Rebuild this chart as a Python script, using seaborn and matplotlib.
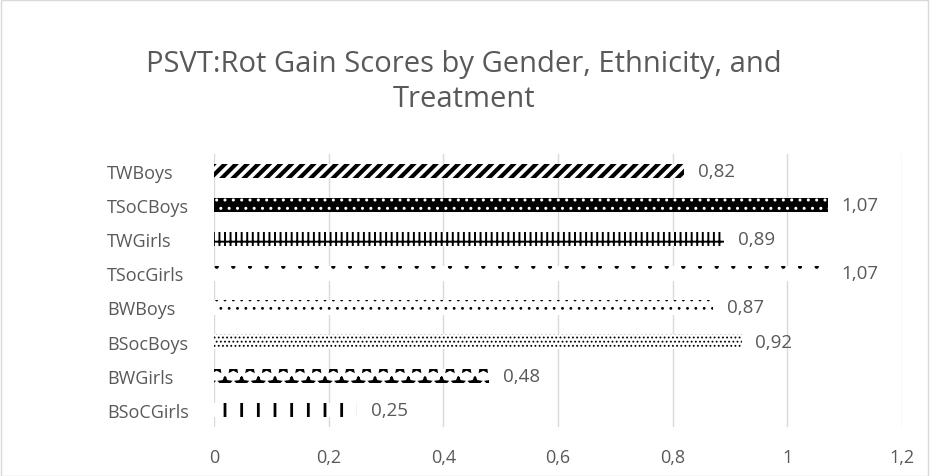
import matplotlib.pyplot as plt
import seaborn as sns
from matplotlib.patches import Rectangle
from matplotlib.ticker import FuncFormatter, MultipleLocator
from pandas import DataFrame

groups = ["TWBoys", "TSoCBoys", "TWGirls", "TSocGirls",
          "BWBoys", "BSocBoys", "BWGirls", "BSoCGirls"]
gain = [0.82, 1.07, 0.89, 1.07, 0.87, 0.92, 0.48, 0.25]

# pattern per bar: (face, hatch colour, hatch, hatch linewidth)
patterns = [
    ("white", "black", "///", 3.0),
    ("black", "white", "..", 1.0),
    ("white", "black", "|||-", 1.4),
    ("white", "black", ".", 0.6),
    ("white", "black", "..", 0.8),
    ("white", "black", "....", 0.8),
    ("white", "black", "*", 1.6),
    ("white", "black", "|", 2.0),
]

df = DataFrame({"group": groups, "gain": gain})
txt = "#595959"

sns.set_theme(style="white")
plt.rcParams["font.family"] = ["Open Sans", "DejaVu Sans"]

fig = plt.figure(figsize=(9.3, 4.77), dpi=100)
ax = fig.add_axes([0.230, 0.103, 0.740, 0.572])

sns.barplot(data=df, x="gain", y="group", orient="h", width=0.42,
            color="white", linewidth=0, ax=ax)

for bar, (face, hc, hatch, hlw) in zip(ax.patches, patterns):
    bar.set_facecolor(face)
    bar.set_edgecolor(hc)
    bar.set_hatch(hatch)
    bar.set_linewidth(0)
    if hasattr(bar, "set_hatch_linewidth"):
        bar.set_hatch_linewidth(hlw)

ax.bar_label(ax.containers[0],
             labels=[f"{v:.2f}".replace(".", ",") for v in gain],
             padding=10, color=txt, fontsize=13.5)

ax.set_xlim(0, 1.2)
ax.xaxis.set_major_locator(MultipleLocator(0.2))
ax.xaxis.set_major_formatter(
    FuncFormatter(lambda v, p: f"{v:.1f}".replace(".", ",").replace(",0", "") if v else "0"))
ax.grid(axis="x", color="#d9d9d9", linewidth=1)
ax.set_axisbelow(True)
for s in ax.spines.values():
    s.set_visible(False)
ax.set_xlabel("")
ax.set_ylabel("")
ax.tick_params(axis="x", colors=txt, labelsize=13, length=0, pad=15)
ax.tick_params(axis="y", colors=txt, labelsize=13, length=0, pad=77)
for lab in ax.get_yticklabels():
    lab.set_horizontalalignment("left")

fig.text(0.499, 0.828, "PSVT:Rot Gain Scores by Gender, Ethnicity, and\nTreatment",
         ha="center", va="center", color=txt, fontsize=21, linespacing=1.25)

fig.patches.append(Rectangle((0.001, 0.001), 0.997, 0.997, transform=fig.transFigure,
                             fill=False, edgecolor="#d9d9d9", linewidth=1))

plt.savefig("out.png", dpi=100)
plt.close()
